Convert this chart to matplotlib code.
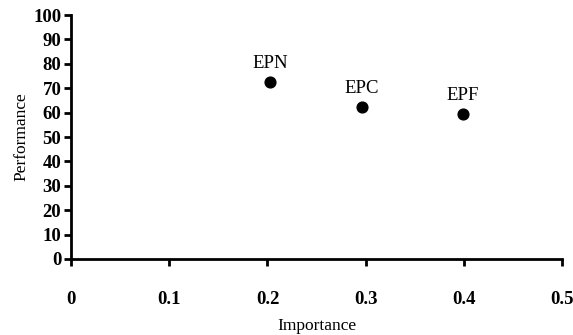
import matplotlib.pyplot as plt

# Data
labels = ['EPN', 'EPC', 'EPF']
importance = [0.203, 0.296, 0.399]
performance = [72.5, 62.3, 59.4]

plt.rcParams['font.family'] = ['Liberation Serif', 'DejaVu Serif']

fig = plt.figure(figsize=(5.73, 3.35), dpi=100)
ax = fig.add_axes([0.124, 0.227, 0.857, 0.728])

ax.scatter(importance, performance, s=60, color='black', zorder=3)
for lab, x, y in zip(labels, importance, performance):
    ax.annotate(lab, (x, y), xytext=(0, 7), textcoords='offset points',
                ha='center', va='bottom', fontsize=13.5)

ax.set_xlim(0, 0.5)
ax.set_ylim(0, 100)
ax.set_xticks([0, 0.1, 0.2, 0.3, 0.4, 0.5])
ax.set_xticklabels(['0', '0.1', '0.2', '0.3', '0.4', '0.5'])
ax.set_yticks(range(0, 101, 10))

for side in ['top', 'right']:
    ax.spines[side].set_visible(False)
for side in ['left', 'bottom']:
    ax.spines[side].set_linewidth(2)

ax.tick_params(width=2, length=5, labelsize=13.5)
ax.tick_params(axis='x', pad=18)
ax.tick_params(axis='y', pad=2)
for t in ax.get_xticklabels() + ax.get_yticklabels():
    t.set_fontweight('bold')

ax.set_xlabel('Importance', fontsize=12.5, labelpad=7)
ax.set_ylabel('Performance', fontsize=12.5, labelpad=3)

fig.savefig('out.png', dpi=100)
